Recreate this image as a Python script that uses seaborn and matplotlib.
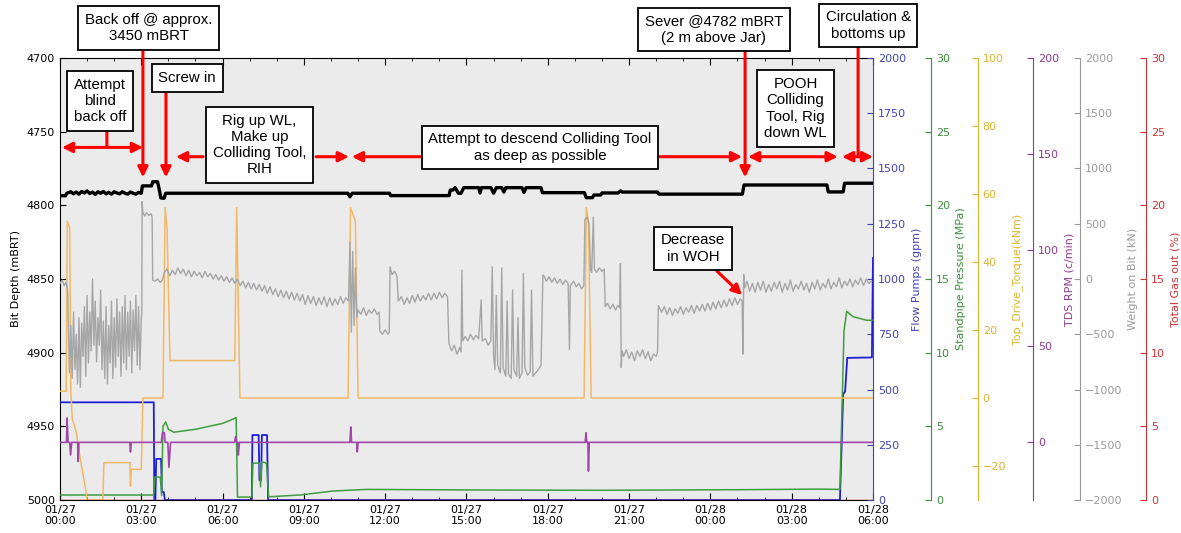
import matplotlib
matplotlib.use("Agg")
import matplotlib.pyplot as plt
import seaborn as sns

# ---------------- data (time in hours from 01/27 00:00) ----------------
xtick_hours = [0, 3, 6, 9, 12, 15, 18, 21, 24, 27, 30]
xtick_labels = ["01/27\n00:00", "01/27\n03:00", "01/27\n06:00", "01/27\n09:00",
                "01/27\n12:00", "01/27\n15:00", "01/27\n18:00", "01/27\n21:00",
                "01/28\n00:00", "01/28\n03:00", "01/28\n06:00"]

depth_t = [0.0, 0.2, 0.25, 0.4, 0.5, 0.6, 0.7, 0.8, 0.9, 1.0, 1.1, 1.2, 1.3, 1.4, 1.5, 1.6, 1.7,
           1.8, 1.9, 2.0, 2.1, 2.2, 2.3, 2.4, 2.5, 2.6, 2.7, 2.8, 2.9, 3.0, 3.04, 3.38, 3.42, 3.6,
           3.66, 3.72, 3.84, 3.9, 10.62, 10.7, 10.78, 12.16, 12.2, 14.36, 14.4, 14.5, 14.58, 14.7,
           14.8, 14.9, 15.0, 15.45, 15.5, 15.55, 15.9, 16.0, 16.1, 16.3, 16.38, 16.45, 17.05,
           17.12, 17.2, 17.75, 17.8, 19.35, 19.42, 19.65, 19.7, 19.95, 20.0, 20.6, 20.68, 20.75,
           22.05, 22.1, 25.18, 25.24, 28.3, 28.35, 28.9, 28.95, 30.0]
depth_v = [4793.5, 4793.5, 4791.8, 4790.8, 4792.2, 4791.0, 4792.4, 4790.6, 4791.6, 4790.2, 4792.0,
           4791.0, 4792.6, 4790.8, 4791.8, 4790.6, 4792.2, 4791.2, 4792.4, 4790.8, 4791.6, 4792.2,
           4790.8, 4791.8, 4792.4, 4791.0, 4791.8, 4792.4, 4791.2, 4791.8, 4786.8, 4786.8, 4784.0,
           4784.0, 4789.0, 4795.0, 4795.2, 4791.8, 4791.8, 4794.2, 4791.8, 4791.8, 4793.4, 4793.4,
           4789.6, 4789.6, 4788.0, 4791.8, 4791.8, 4788.0, 4788.0, 4788.0, 4791.6, 4788.0, 4788.0,
           4791.8, 4788.0, 4788.0, 4791.0, 4788.0, 4788.0, 4791.2, 4788.0, 4788.0, 4791.4, 4791.4,
           4794.8, 4794.8, 4793.0, 4793.0, 4791.6, 4791.6, 4790.2, 4791.0, 4791.0, 4792.4, 4792.4,
           4786.2, 4786.2, 4790.9, 4790.9, 4785.0, 4785.0]

wob_t = [0.00, 0.08, 0.15, 0.22, 0.28,
         0.30, 0.35, 0.40, 0.45, 0.50, 0.55, 0.60, 0.65, 0.70, 0.75, 0.80, 0.85, 0.90, 0.95,
         1.00, 1.05, 1.10, 1.15, 1.20, 1.25, 1.30, 1.35, 1.40, 1.45, 1.50, 1.55, 1.60, 1.65,
         1.70, 1.75, 1.80, 1.85, 1.90, 1.95, 2.00, 2.05, 2.10, 2.15, 2.20, 2.25, 2.30, 2.35,
         2.40, 2.45, 2.50, 2.55, 2.60, 2.65, 2.70, 2.75, 2.80, 2.85, 2.90, 2.95, 3.00,
         3.02, 3.03, 3.06, 3.12, 3.20, 3.28, 3.36, 3.40, 3.42, 3.50, 3.60, 3.70, 3.78, 3.85,
         3.95, 4.05, 4.15, 4.25, 4.35, 4.45, 4.55, 4.65, 4.75, 4.85, 4.95, 5.05, 5.15, 5.25,
         5.35, 5.45, 5.55, 5.65, 5.75, 5.85, 5.95, 6.05, 6.15, 6.25, 6.35, 6.45, 6.55, 6.65,
         6.75, 6.85, 6.95, 7.05, 7.15, 7.25, 7.35, 7.45, 7.55, 7.65, 7.75, 7.85, 7.95, 8.05,
         8.15, 8.25, 8.35, 8.45, 8.55, 8.65, 8.75, 8.85, 8.95, 9.05, 9.15, 9.25, 9.35, 9.45,
         9.55, 9.65, 9.75, 9.85, 9.95, 10.05, 10.15, 10.25, 10.35, 10.45, 10.55, 10.65,
         10.70, 10.75, 10.80, 10.85, 10.90, 10.95, 11.00,
         11.10, 11.20, 11.30, 11.40, 11.50, 11.60, 11.70, 11.78,
         11.80, 11.90, 12.00, 12.10, 12.15,
         12.18, 12.25, 12.35, 12.44,
         12.48, 12.60, 12.70, 12.80, 12.90, 13.00, 13.10, 13.20, 13.30, 13.40, 13.50, 13.60,
         13.70, 13.80, 13.90, 14.00, 14.10, 14.20, 14.30,
         14.35, 14.45, 14.55, 14.65, 14.75, 14.80, 14.83, 14.86,
         14.95, 15.05, 15.15, 15.25, 15.35, 15.45, 15.54, 15.58,
         15.70, 15.80, 15.90, 15.95, 16.00,
         16.05, 16.10, 16.15, 16.25, 16.30, 16.35, 16.45, 16.50, 16.55, 16.65, 16.70, 16.75,
         16.85, 16.90, 16.95, 17.05, 17.10, 17.15, 17.25, 17.35, 17.40, 17.45, 17.55, 17.65,
         17.75,
         17.82, 17.85, 17.95, 18.05, 18.15, 18.25, 18.35, 18.45, 18.55, 18.65, 18.75, 18.80,
         18.83, 18.95, 19.05, 19.15, 19.25, 19.33,
         19.37, 19.45, 19.52, 19.58, 19.62, 19.68, 19.72, 19.80, 19.90, 20.00, 20.08,
         20.12, 20.20, 20.30, 20.40, 20.50, 20.58, 20.65,
         20.68, 20.71, 20.74,
         20.80, 20.90, 21.00, 21.10, 21.20, 21.30, 21.40, 21.50, 21.60, 21.70, 21.80, 21.90,
         22.00, 22.05,
         22.08, 22.20, 22.30, 22.40, 22.50, 22.60, 22.70, 22.80, 22.90, 23.00, 23.10, 23.20,
         23.30, 23.40, 23.50, 23.60, 23.70, 23.80, 23.90, 24.00, 24.10, 24.20, 24.30, 24.40,
         24.50, 24.60, 24.70, 24.80, 24.90, 25.00, 25.10, 25.17,
         25.20, 25.23, 25.27,
         25.35, 25.45, 25.55, 25.65, 25.75, 25.85, 25.95, 26.05, 26.15, 26.25, 26.35, 26.45,
         26.55, 26.65, 26.75, 26.85, 26.95, 27.05, 27.15, 27.25, 27.35, 27.45, 27.55, 27.65,
         27.75, 27.85, 27.95, 28.05, 28.15, 28.25, 28.35, 28.45, 28.55, 28.65, 28.75, 28.85,
         28.95, 29.05, 29.15, 29.25, 29.35, 29.45, 29.55, 29.65, 29.75, 29.85, 29.95]
wob_v = [-40, -10, -60, -30, -90,
         -300, -850, -420, -900, -300, -820, -500, -950, -350, -980, -400, -700, -250, -880,
         -150, -760, -300, -650, 0, -600, -200, -750, -350, -600, -100, -820, -380, -900,
         -250, -950, -420, -760, -200, -900, -350, -800, -180, -700, -300, -880, -250, -760,
         -150, -820, -300, -700, -200, -850, -280, -650, -150, -780, -250, -820, -350,
         -300, 700, 600, 570, 600, 575, 590, 560, -10, -20, 0, -30, -10, 60,
         90, 30, 80, 40, 100, 50, 90, 30, 80, 20, 70, 30, 60, 10,
         70, 20, 50, 0, 40, -10, 30, -20, 20, -30, 10, -40, 0, -60,
         -20, -80, -30, -90, -40, -100, -50, -110, -60, -130, -70, -140, -90, -160,
         -100, -170, -110, -180, -120, -190, -130, -200, -140, -230, -150, -220, -160, -240,
         -170, -230, -160, -250, -170, -240, -180, -230, -160, -220, -170, -200,
         335, -480, 250, -420, 100, -350, -280,
         -320, -260, -330, -280, -310, -270, -320, -300,
         -470, -500, -460, -500, -480,
         110, 40, 70, 20,
         -200, -160, -230, -170, -220, -150, -210, -140, -200, -150, -190, -130,
         -190, -130, -180, -120, -170, -130, -160,
         -580, -650, -600, -680, -620, -660, 80, -560,
         -520, -560, -500, -550, -510, -540, -190, -560,
         -540, -600, -560, 110, -700,
         -820, -150, -780, -850, 100, -800, -880, -200, -860, -900, -100, -820,
         -880, -350, -900, -850, 50, -800, -870, -840, -100, -880, -850, -820,
         -780,
         36, 30, -20, 20, -30, 10, -40, 0, -50, -10, -40, -640,
         -60, -20, -70, -40, -90, -60,
         540, 560, 500, 80, 60, 560, 90, 60, 100, 70, 90,
         -250, -220, -270, -230, -280, -240, -260,
         140, -800, -650,
         -700, -640, -720, -660, -740, -650, -700, -640, -720, -660, -740, -680,
         -700, -660,
         -240, -300, -250, -320, -260, -330, -270, -310, -250, -320, -260, -300,
         -240, -310, -240, -290, -230, -290, -220, -280, -210, -270, -200, -260,
         -190, -250, -180, -240, -170, -230, -180, -200,
         -680, 40, -80,
         -20, -110, -40, -120, -30, -100, -20, -120, -50, -110, -30, -90,
         -20, -120, -40, -100, -10, -110, -50, -90, -20, -100, -40, -120,
         -30, -90, -10, -100, -40, -80, 0, -90, -30, -70, 10, -80,
         -20, -60, 0, -70, -10, -50, 10, -60, 0, -40, -20]

torque_t = [0.0, 0.23, 0.27, 0.36, 0.4, 0.45, 0.6, 0.75, 0.95, 1.0, 1.58, 1.62, 2.58, 2.6, 2.63,
            3.0, 3.06, 3.8, 3.88, 3.95, 4.06, 6.45, 6.52, 6.64, 10.63, 10.72, 10.9, 11.0,
            19.34, 19.42, 19.5, 19.6, 30.0]
torque_v = [2, 2, 52, 50, 2, -6, -10, -18, -27, -30, -30, -19, -19, -26, -21,
            -21, 0, 0, 56, 50, 11, 11, 56, 0, 0, 56, 52, 0,
            0, 56, 52, 0, 0]

rpm_t = [0.0, 0.24, 0.26, 0.30, 0.36, 0.39, 0.43, 0.65, 0.67, 0.70, 2.58, 2.6, 2.63, 3.74,
         3.78, 3.85, 3.88, 3.98, 4.02, 4.08, 6.44, 6.48, 6.52, 6.56, 6.58, 6.62, 10.7, 10.73,
         10.76, 10.95, 10.97, 11.0, 19.38, 19.41, 19.44, 19.48, 19.5, 19.53, 30.0]
rpm_v = [0, 0, 12.7, 0, 0, -6.6, 0, 0, -10, 0, 0, -5, 0, 0,
         5, 5, 0, 0, -13, 0, 0, 3, 0, 0, -6.6, 0, 0, 8,
         0, 0, -5, 0, 0, 5, 0, 0, -15, 0, 0]

flow_t = [0.0, 3.46, 3.48, 3.52, 3.55, 3.73, 3.76, 3.83, 3.87, 7.08, 7.1, 7.33, 7.36, 7.42,
          7.45, 7.64, 7.68, 28.78, 28.9, 28.97, 29.05, 29.96, 30.0]
flow_v = [442, 442, 0, 0, 186, 186, 36, 36, 0, 0, 294, 294, 90, 90,
          294, 294, 0, 0, 480, 490, 643, 645, 1095]

spp_t = [0.0, 3.46, 3.5, 3.7, 3.75, 3.8, 3.9, 4.0, 4.2, 5.0, 6.0, 6.4, 6.5, 6.55, 7.08,
         7.12, 7.36, 7.4, 7.45, 7.62, 7.7, 8.86, 10.07, 11.3, 15.5, 20.0, 25.0, 28.0, 28.78,
         28.93, 29.03, 29.27, 29.77, 30.0]
spp_v = [0.34, 0.34, 1.56, 1.56, 0.3, 5.0, 5.3, 4.8, 4.6, 4.8, 5.2, 5.5, 5.6, 0.2, 0.2,
         2.5, 2.5, 0.9, 2.6, 2.5, 0.22, 0.34, 0.61, 0.72, 0.68, 0.66, 0.7, 0.74, 0.72,
         11.5, 12.8, 12.44, 12.2, 12.2]

gas_t = [0.0, 30.0]
gas_v = [0.0, 0.0]

# ---------------- styling ----------------
C_FLOW, C_FLOW_AX = "#1f1fd6", "#4343b5"
C_SPP, C_SPP_AX = "#3f9d3f", "#3a913a"
C_TRQ, C_TRQ_AX = "#f3b866", "#ddb52e"
C_RPM, C_RPM_AX = "#a046a8", "#8e3c8e"
C_WOB, C_WOB_AX = "#a6a6a6", "#9a9a9a"
C_GAS, C_GAS_AX = "#d03a3a", "#cc3333"

plt.rcParams["font.family"] = ["DejaVu Sans"]
plt.rcParams["xtick.direction"] = "in"
plt.rcParams["ytick.direction"] = "in"

fig = plt.figure(figsize=(11.81, 5.33), dpi=100)
fig.patch.set_facecolor("white")
ax = fig.add_axes([0.0508, 0.0619, 0.6884, 0.8293])
ax.set_facecolor("#ebebeb")

sns.lineplot(x=depth_t, y=depth_v, ax=ax, color="black", linewidth=2.4,
             estimator=None, sort=False, legend=False)
ax.set_xlim(0, 30)
ax.set_ylim(5000, 4700)
ax.set_yticks([4700, 4750, 4800, 4850, 4900, 4950, 5000])
ax.set_xticks(xtick_hours)
ax.set_xticklabels(xtick_labels)
ax.set_xticks(list(range(31)), minor=True)
ax.tick_params(axis="x", which="both", top=True, labelsize=8)
ax.tick_params(axis="x", which="major", length=5)
ax.tick_params(axis="x", which="minor", length=2.5)
ax.tick_params(axis="y", labelsize=8, length=4)
ax.set_ylabel("Bit Depth (mBRT)", fontsize=8)
ax.set_xlabel("")
ax.spines["right"].set_visible(False)


def make_twin(pos, color, ylim, ticks, label):
    t = ax.twinx()
    t.spines["right"].set_position(("axes", pos))
    for s in ["left", "top", "bottom"]:
        t.spines[s].set_visible(False)
    t.spines["right"].set_color(color)
    t.set_ylim(*ylim)
    t.set_yticks(ticks)
    t.tick_params(axis="y", colors=color, labelsize=8, length=4)
    t.set_ylabel(label, color=color, fontsize=8)
    return t


ax_flow = make_twin(1.0, C_FLOW_AX, (0, 2000), list(range(0, 2001, 250)), "Flow Pumps (gpm)")
ax_spp = make_twin(1.0713, C_SPP_AX, (0, 30), list(range(0, 31, 5)), "Standpipe Pressure (MPa)")
ax_trq = make_twin(1.129, C_TRQ_AX, (-30, 100), list(range(-20, 101, 20)), "Top_Drive_Torque(kNm)")
ax_rpm = make_twin(1.1968, C_RPM_AX, (-30, 200), list(range(0, 201, 50)), "TDS RPM (c/min)")
ax_wob = make_twin(1.2546, C_WOB_AX, (-2000, 2000), list(range(-2000, 2001, 500)), "Weight on Bit (kN)")
ax_gas = make_twin(1.3358, C_GAS_AX, (0, 30), list(range(0, 31, 5)), "Total Gas out (%)")

sns.lineplot(x=torque_t, y=torque_v, ax=ax_trq, color=C_TRQ, linewidth=1.1,
             estimator=None, sort=False, legend=False)
sns.lineplot(x=wob_t, y=wob_v, ax=ax_wob, color=C_WOB, linewidth=1.0,
             estimator=None, sort=False, legend=False)
sns.lineplot(x=rpm_t, y=rpm_v, ax=ax_rpm, color=C_RPM, linewidth=1.2,
             estimator=None, sort=False, legend=False)
sns.lineplot(x=spp_t, y=spp_v, ax=ax_spp, color=C_SPP, linewidth=1.1,
             estimator=None, sort=False, legend=False)
sns.lineplot(x=flow_t, y=flow_v, ax=ax_flow, color=C_FLOW, linewidth=1.3,
             estimator=None, sort=False, legend=False)
sns.lineplot(x=gas_t, y=gas_v, ax=ax_gas, color=C_GAS, linewidth=1.0,
             estimator=None, sort=False, legend=False)
for a in [ax_flow, ax_spp, ax_trq, ax_rpm, ax_wob, ax_gas]:
    a.set_xlim(0, 30)
    a.set_xlabel("")

# ---------------- annotations (in hours / depth coordinates) ----------------
top = ax_gas
T = ax.transData
box_kw = dict(boxstyle="square,pad=0.45", fc="white", ec="black", lw=1.3)


def box(x, y, s):
    top.text(x, y, s, transform=T, ha="center", va="center", fontsize=10.8,
             family=["Liberation Sans", "DejaVu Sans"], linespacing=1.2,
             bbox=box_kw, zorder=30, clip_on=False)


def arrow(x1, y1, x2, y2, style="-|>"):
    top.annotate("", xy=(x2, y2), xytext=(x1, y1), xycoords=T, textcoords=T,
                 annotation_clip=False, zorder=25,
                 arrowprops=dict(arrowstyle=style, color="red", lw=2.2,
                                 mutation_scale=15, shrinkA=0, shrinkB=0))


box(3.28, 4679.6, "Back off @ approx.\n3450 mBRT")
box(4.69, 4713.6, "Screw in")
box(1.48, 4729.2, "Attempt\nblind\nback off")
box(7.36, 4759.0, "Rig up WL,\nMake up\nColliding Tool,\nRIH")
box(17.71, 4760.7, "Attempt to descend Colliding Tool\nas deep as possible")
box(24.13, 4680.7, "Sever @4782 mBRT\n(2 m above Jar)")
box(27.14, 4734.3, "POOH\nColliding\nTool, Rig\ndown WL")
box(29.82, 4678.0, "Circulation &\nbottoms up")
box(23.36, 4829.3, "Decrease\nin WOH")

arrow(3.06, 4695.2, 3.06, 4781.0)
arrow(3.91, 4722.4, 3.91, 4781.0)
arrow(0.07, 4760.7, 3.06, 4760.7, "<|-|>")
arrow(1.73, 4750.2, 1.73, 4760.7, "-")
arrow(5.28, 4767.0, 4.28, 4767.0)
arrow(9.45, 4767.0, 10.66, 4767.0)
arrow(13.39, 4767.0, 10.77, 4767.0)
arrow(22.07, 4767.0, 25.17, 4767.0)
arrow(25.28, 4695.9, 25.28, 4781.0)
arrow(25.39, 4767.0, 28.7, 4767.0, "<|-|>")
arrow(29.45, 4693.2, 29.45, 4767.0, "-")
arrow(28.86, 4767.0, 30.0, 4767.0, "<|-|>")
arrow(24.24, 4844.6, 25.17, 4860.9)

fig.savefig("out.png", dpi=100, facecolor="white")
